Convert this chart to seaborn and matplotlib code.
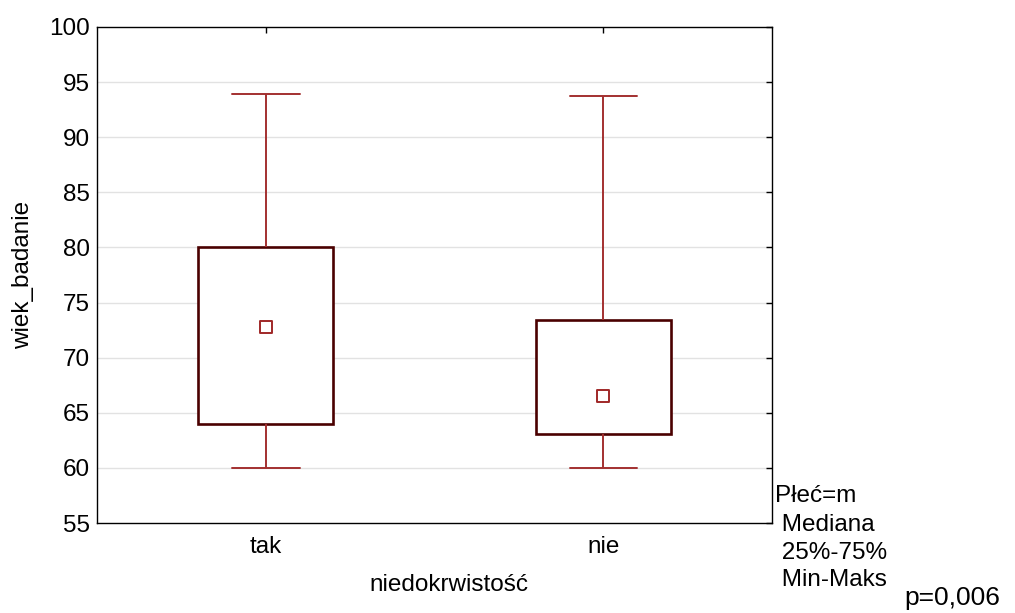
"""
Box plot of wiek_badanie by niedokrwistość (Płeć=m): median, 25%-75%, min-max.
Saves out.png
"""
import pandas as pd
import matplotlib.pyplot as plt
import seaborn as sns

# five-number summaries
categories = ["tak", "nie"]
mins = [60.0, 60.0]
q1s = [64.0, 63.05]
medians = [72.8, 66.5]
q3s = [80.0, 73.4]
maxs = [93.9, 93.75]

y_ticks = [55, 60, 65, 70, 75, 80, 85, 90, 95, 100]

BOX_EDGE = "#4a0000"
WHISKER = "#a33030"
MEDIAN = "#a02828"
FS = 17.5


def build_frame():
    # with 5 points, linear percentiles hit exactly min/q1/median/q3/max
    rows = []
    for i, cat in enumerate(categories):
        for v in (mins[i], q1s[i], medians[i], q3s[i], maxs[i]):
            rows.append({"niedokrwistosc": cat, "wiek_badanie": v})
    return pd.DataFrame(rows)


def main():
    sns.set_theme(style="white")
    plt.rcParams["font.family"] = ["Liberation Sans", "DejaVu Sans"]
    plt.rcParams["text.color"] = "black"
    plt.rcParams["axes.labelcolor"] = "black"
    plt.rcParams["xtick.color"] = "black"
    plt.rcParams["ytick.color"] = "black"

    df = build_frame()
    med_df = pd.DataFrame({"niedokrwistosc": categories, "wiek_badanie": medians})

    fig = plt.figure(figsize=(10.15, 6.13), dpi=100)
    ax = fig.add_axes([0.0956, 0.1468, 0.665, 0.8092])

    for y in y_ticks[1:-1]:
        ax.axhline(y, color="#e2e2e2", lw=1, zorder=0)

    sns.boxplot(
        data=df, x="niedokrwistosc", y="wiek_badanie", order=categories,
        whis=(0, 100), width=0.4, color="white", linecolor=BOX_EDGE, ax=ax,
        boxprops=dict(edgecolor=BOX_EDGE, facecolor="white", linewidth=1.9, zorder=2),
        whiskerprops=dict(color=WHISKER, linewidth=1.4),
        capprops=dict(color=WHISKER, linewidth=1.4),
        medianprops=dict(visible=False),
        showfliers=False,
    )
    for patch in ax.patches:
        patch.set_facecolor("white")
        patch.set_edgecolor(BOX_EDGE)
        patch.set_zorder(2)

    sns.scatterplot(
        data=med_df, x="niedokrwistosc", y="wiek_badanie", marker="s", s=72,
        facecolor="white", edgecolor=MEDIAN, linewidth=1.4, zorder=3, ax=ax,
    )

    ax.set_xlim(-0.5, 1.5)
    ax.set_ylim(55, 100)
    ax.set_yticks(y_ticks)
    ax.set_xlabel("")
    ax.set_ylabel("wiek_badanie", fontsize=FS)
    ax.yaxis.set_label_coords(-0.109, 0.5)
    ax.yaxis.label.set_verticalalignment("center")
    ax.tick_params(axis="both", direction="in", length=4, width=1, color="black",
                   top=True, right=True, labelsize=FS)
    ax.tick_params(axis="y", pad=5)
    ax.tick_params(axis="x", pad=9)
    for s in ax.spines.values():
        s.set_color("black")
        s.set_linewidth(1)

    fig.text(0.442, 0.045, "niedokrwistość", ha="center", va="center", fontsize=FS)
    fig.text(0.764, 0.191, "Płeć=m", ha="left", va="center", fontsize=FS)
    fig.text(0.764, 0.144, " Mediana", ha="left", va="center", fontsize=FS)
    fig.text(0.764, 0.098, " 25%-75%", ha="left", va="center", fontsize=FS)
    fig.text(0.764, 0.054, " Min-Maks", ha="left", va="center", fontsize=FS)
    fig.text(0.985, 0.024, "p=0,006", ha="right", va="center", fontsize=19)

    fig.savefig("out.png", dpi=100)
    plt.close(fig)


if __name__ == "__main__":
    main()
